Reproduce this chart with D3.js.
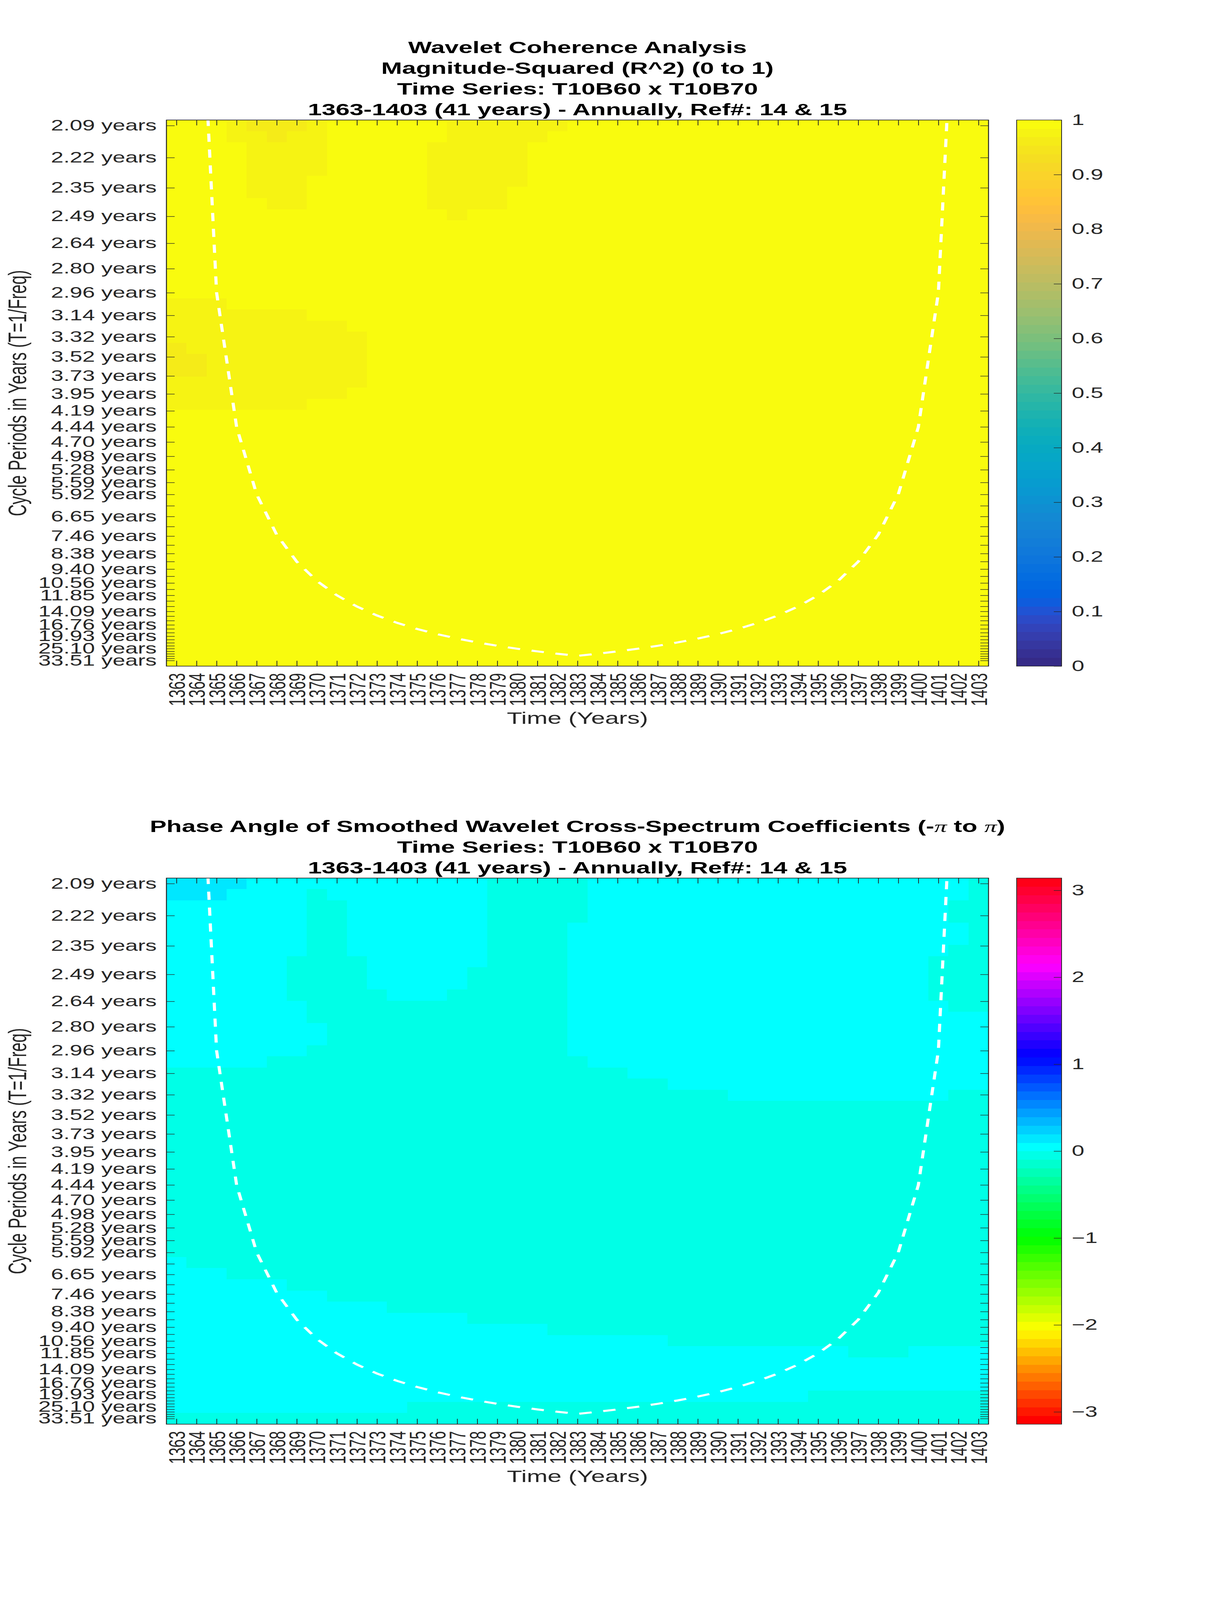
<!DOCTYPE html>
<html><head><meta charset="utf-8">
<script src="https://cdn.jsdelivr.net/npm/d3@7/dist/d3.min.js"></script>
<style>
html,body{margin:0;padding:0;background:#fff;overflow:hidden;}
svg{display:block;}
</style></head><body>
<svg id="chart" viewBox="0 0 3125 6252" preserveAspectRatio="none"></svg>
<script>
// ---------------- DATA ----------------
const years = [1363,1364,1365,1366,1367,1368,1369,1370,1371,1372,1373,1374,1375,1376,1377,1378,1379,1380,1381,1382,1383,
  1384,1385,1386,1387,1388,1389,1390,1391,1392,1393,1394,1395,1396,1397,1398,1399,1400,1401,1402,1403];

// wavelet scales (periods, years), one per row, top to bottom
const periods = [2.0944,2.2189,2.3509,2.4907,2.6388,2.7957,2.9619,3.1381,3.3246,3.5223,3.7318,3.9537,
  4.1888,4.4378,4.7018,4.9814,5.2776,5.5914,5.9238,6.2761,6.6493,7.0447,7.4636,7.9074,8.3776,8.8757,
  9.4036,9.9627,10.5552,11.1828,11.8477,12.5523,13.2987,14.0894,14.9273,15.8149,16.7552,17.7515,18.8071,
  19.9254,21.1103,22.3655,23.6954,25.1045,26.5972,28.1788,29.8543,31.6296,33.5104];

const periodTickLabels = ["2.09 years","2.22 years","2.35 years","2.49 years","2.64 years","2.80 years","2.96 years",
  "3.14 years","3.32 years","3.52 years","3.73 years","3.95 years","4.19 years","4.44 years","4.70 years","4.98 years",
  "5.28 years","5.59 years","5.92 years","","6.65 years","","7.46 years","","8.38 years","","9.40 years","",
  "10.56 years","","11.85 years","","","14.09 years","","","16.76 years","","","19.93 years","","","",
  "25.10 years","","","","","33.51 years"];

// cone of influence (period, years) per year
const coiPeriods = [0.01,1.48,2.96,4.44,5.92,7.40,8.88,10.36,11.84,13.32,14.80,16.28,17.76,19.24,20.72,22.20,23.68,25.16,26.64,28.12,29.60,
  28.12,26.64,25.16,23.68,22.20,20.72,19.24,17.76,16.28,14.80,13.32,11.84,10.36,8.88,7.40,5.92,4.44,2.96,1.48,0.01];

// Magnitude-squared coherence, run-length rows (top row = 2.09 years); letters -> coherenceLevels
const coherenceLevels = {a: 0.99, b: 0.975, c: 0.96};
const coherenceRows = [
  "3a1b3c1b6a6b21a","3a2b1c2b6a5b22a","4a4b5a5b23a","4a4b5a5b23a","4a4b5a5b23a","4a3b6a5b23a","4a3b6a4b24a","5a2b6a4b24a",
  "14a1b26a","41a","41a","41a","41a","41a","41a","41a",
  "3b38a","7b34a","9b32a","10b31a","1c9b31a","2c8b31a","2c8b31a","10b31a","9b32a","7b34a",
  "41a","41a","41a","41a","41a","41a","41a","41a","41a","41a","41a","41a","41a","41a","41a","41a",
  "41a","41a","41a","41a","41a","41a","41a"
];

// Phase angle (radians), run-length rows; letters -> phaseLevels
const phaseLevels = {c: 0.05, g: -0.05, b: 0.15};
const phaseRows = [
  "4b12c5g19c1g","3b4c1g8c5g19c1g","7c2g7c5g18c2g","7c2g7c5g18c2g","7c2g7c4g20c1g","7c2g7c4g20c1g","7c2g7c4g19c2g",
  "6c4g6c4g18c3g","6c4g5c5g18c3g","6c4g5c5g18c3g","6c5g3c6g18c3g","7c13g19c2g","7c13g21c","8c12g21c","8c12g21c",
  "7c13g21c","5c16g20c","23g18c","25g16c","28g11c2g",
  "41g","41g","41g","41g","41g","41g","41g","41g","41g","41g","41g","41g","41g","41g",
  "1c40g","3c38g","6c35g","8c33g","11c30g","15c26g","19c22g","25c16g","34c3g4c","41c","41c","41c","32c9g","12c29g","41g"
];

const coherenceTicks = [0,0.1,0.2,0.3,0.4,0.5,0.6,0.7,0.8,0.9,1];
const phaseTicks = [-3,-2,-1,0,1,2,3];

const titleTop = ["Wavelet Coherence Analysis","Magnitude-Squared (R^2) (0 to 1)","Time Series: T10B60 x T10B70",
  "1363-1403 (41 years) - Annually, Ref#: 14 & 15"];
const titleBottom = ["PHASE","Time Series: T10B60 x T10B70","1363-1403 (41 years) - Annually, Ref#: 14 & 15"];
const yLabel = "Cycle Periods in Years (T=1/Freq)";
const xLabel = "Time (Years)";

// ---------------- COLORMAPS ----------------
const parula64 = ["#352A87","#363093","#3637A0","#353DAD","#3243BA","#2C4AC7","#2053D4","#0F5CDD","#0363E1","#0268E1",
  "#046DE0","#0871DE","#0D75DC","#1079DA","#127DD8","#1481D6","#1485D4","#1389D3","#108ED2","#0C93D2","#0998D1",
  "#079CCF","#06A0CD","#06A4CA","#06A7C6","#07A9C2","#0AACBE","#0FAEB9","#15B1B4","#1DB3AF","#25B5A9","#2EB7A4",
  "#38B99E","#42BB98","#4DBC92","#59BD8C","#65BE86","#71BF80","#7CBF7B","#87BF77","#92BF73","#9CBF6F","#A5BE6B",
  "#AEBE67","#B7BD64","#C0BC60","#C8BC5D","#D1BB59","#D9BA56","#E1B952","#E9B94E","#F1B94A","#F8BB44","#FDBE3D",
  "#FFC337","#FEC832","#FCCE2E","#FAD32A","#F7D826","#F5DE21","#F5E41D","#F5EB18","#F6F313","#F9FB0E"];
const hsv64 = d3.range(64).map(i => d3.hsl(i/64*360, 1, 0.5).formatHex());

const coherenceColor = d3.scaleQuantize().domain([0,1]).range(parula64);
const phaseColor = d3.scaleQuantize().domain([-Math.PI, Math.PI]).range(hsv64);

// ---------------- LAYOUT ----------------
const FONT = '"Liberation Sans", Arial, Helvetica, sans-serif';
const AX = "#262626";
const PL = 426, PR = 2530, PH = 2134;
const CBL = 2602, CBR = 2717;
const TICK = 21, FS_TICK = 58, FS_TITLE = 64;

// the drawing is laid out on a 3125 x 6252 canvas and fitted to the window
const svg = d3.select("#chart")
  .attr("width", window.innerWidth || 3125)
  .attr("height", window.innerHeight || 6252);
svg.append("rect").attr("width",3125).attr("height",6252).attr("fill","#fff");

function decodeRow(s){
  const out = [];
  s.replace(/(\d+)([a-z])/g, (m, n, ch) => { for (let i = 0; i < +n; i++) out.push(ch); return m; });
  return out;
}

function drawPanel(cfg, idx){
  const top = cfg.top, bottom = top + PH;
  const x = d3.scaleLinear().domain([years[0]-0.5, years[years.length-1]+0.5]).range([PL, PR]);
  const freqs = periods.map(p => 1/p);
  const f0 = freqs[0], fN = freqs[freqs.length-1], step = (f0 - fN)/(freqs.length-1);
  const yF = d3.scaleLinear().domain([f0 + step/2, fN - step/2]).range([top, bottom]);

  const clipId = "clip" + idx;
  svg.append("clipPath").attr("id", clipId).append("rect")
    .attr("x", PL).attr("y", top).attr("width", PR-PL).attr("height", PH);
  const g = svg.append("g").attr("clip-path", `url(#${clipId})`);

  const cells = [];
  cfg.rows.forEach((rs, r) => {
    decodeRow(rs).forEach((ch, c) => cells.push({r, c, v: cfg.levels[ch]}));
  });
  g.selectAll("rect.cell").data(cells).join("rect").attr("class","cell")
    .attr("x", d => x(years[d.c]-0.5))
    .attr("width", d => x(years[d.c]+0.5) - x(years[d.c]-0.5) + 0.8)
    .attr("y", d => yF(f0 - d.r*step + step/2))
    .attr("height", d => yF(f0 - d.r*step - step/2) - yF(f0 - d.r*step + step/2) + 0.8)
    .attr("fill", d => cfg.color(d.v))
    .attr("shape-rendering","crispEdges");

  g.append("path").datum(years.map((yr,i) => [yr, coiPeriods[i]]))
    .attr("d", d3.line().x(d => x(d[0])).y(d => yF(1/d[1])))
    .attr("fill","none").attr("stroke","#fff").attr("stroke-width",8)
    .attr("stroke-dasharray","32,30");

  const styleAxis = sel => {
    sel.attr("color", AX).attr("font-size", FS_TICK).attr("font-family", FONT);
    sel.select(".domain").remove();
    sel.selectAll(".tick line").attr("stroke-width", 2);
  };
  const gb = svg.append("g").attr("transform", `translate(0,${bottom})`)
    .call(d3.axisBottom(x).tickValues(years).tickFormat(d3.format("d")).tickSize(-TICK).tickPadding(27))
    .call(styleAxis);
  gb.selectAll("text").attr("transform","rotate(-90)").attr("x",-27).attr("y",0)
    .attr("dy","0.36em").attr("text-anchor","end");
  svg.append("g").attr("transform", `translate(0,${top})`)
    .call(d3.axisTop(x).tickValues(years).tickFormat("").tickSize(-TICK)).call(styleAxis);
  svg.append("g").attr("transform", `translate(${PL},0)`)
    .call(d3.axisLeft(yF).tickValues(freqs).tickFormat((d,i) => periodTickLabels[i]).tickSize(-TICK).tickPadding(25))
    .call(styleAxis);
  svg.append("g").attr("transform", `translate(${PR},0)`)
    .call(d3.axisRight(yF).tickValues(freqs).tickFormat("").tickSize(-TICK)).call(styleAxis);

  svg.append("rect").attr("x",PL).attr("y",top).attr("width",PR-PL).attr("height",PH)
    .attr("fill","none").attr("stroke",AX).attr("stroke-width",2.5);

  const cb = d3.scaleLinear().domain(cfg.cbDomain).range([bottom, top]);
  const n = cfg.cmap.length, lo = cfg.cbDomain[0], hi = cfg.cbDomain[1];
  svg.append("g").selectAll("rect").data(cfg.cmap).join("rect")
    .attr("x", CBL).attr("width", CBR-CBL)
    .attr("y", (d,i) => cb(lo + (i+1)*(hi-lo)/n))
    .attr("height", (d,i) => cb(lo + i*(hi-lo)/n) - cb(lo + (i+1)*(hi-lo)/n) + 0.8)
    .attr("fill", d => d).attr("shape-rendering","crispEdges");
  svg.append("g").attr("transform", `translate(${CBR},0)`)
    .call(d3.axisRight(cb).tickValues(cfg.cbTicks).tickFormat(cfg.cbFormat).tickSize(-20).tickPadding(26))
    .call(styleAxis);
  svg.append("rect").attr("x",CBL).attr("y",top).attr("width",CBR-CBL).attr("height",PH)
    .attr("fill","none").attr("stroke",AX).attr("stroke-width",2);

  const nT = cfg.title.length;
  cfg.title.forEach((t, i) => {
    const tx = svg.append("text").attr("x", (PL+PR)/2).attr("y", top - 18 - (nT-1-i)*81)
      .attr("text-anchor","middle").attr("font-family",FONT).attr("font-weight","bold")
      .attr("font-size",FS_TITLE).attr("fill","#000");
    if (t === "PHASE") {
      tx.append("tspan").text("Phase Angle of Smoothed Wavelet Cross-Spectrum Coefficients (-");
      tx.append("tspan").attr("font-family",'"Liberation Serif", "DejaVu Serif", serif').attr("font-style","italic").attr("font-weight","normal").text("\u03C0");
      tx.append("tspan").text(" to ");
      tx.append("tspan").attr("font-family",'"Liberation Serif", "DejaVu Serif", serif').attr("font-style","italic").attr("font-weight","normal").text("\u03C0");
      tx.append("tspan").text(")");
    } else tx.text(t);
  });

  svg.append("text").attr("transform", `translate(67,${(top+bottom)/2}) rotate(-90)`)
    .attr("text-anchor","middle").attr("font-family",FONT).attr("font-size",FS_TITLE).attr("fill",AX).text(yLabel);
  svg.append("text").attr("x",(PL+PR)/2).attr("y", bottom + 226)
    .attr("text-anchor","middle").attr("font-family",FONT).attr("font-size",FS_TITLE).attr("fill",AX).text(xLabel);
}

drawPanel({top: 469, rows: coherenceRows, levels: coherenceLevels, color: coherenceColor, cmap: parula64,
  cbDomain: [0,1], cbTicks: coherenceTicks, cbFormat: d => String(+d.toFixed(1)), title: titleTop}, 0);
drawPanel({top: 3431, rows: phaseRows, levels: phaseLevels, color: phaseColor, cmap: hsv64,
  cbDomain: [-Math.PI, Math.PI], cbTicks: phaseTicks, cbFormat: d => d < 0 ? "\u2212" + Math.abs(d) : String(d), title: titleBottom}, 1);
</script>
</body></html>
